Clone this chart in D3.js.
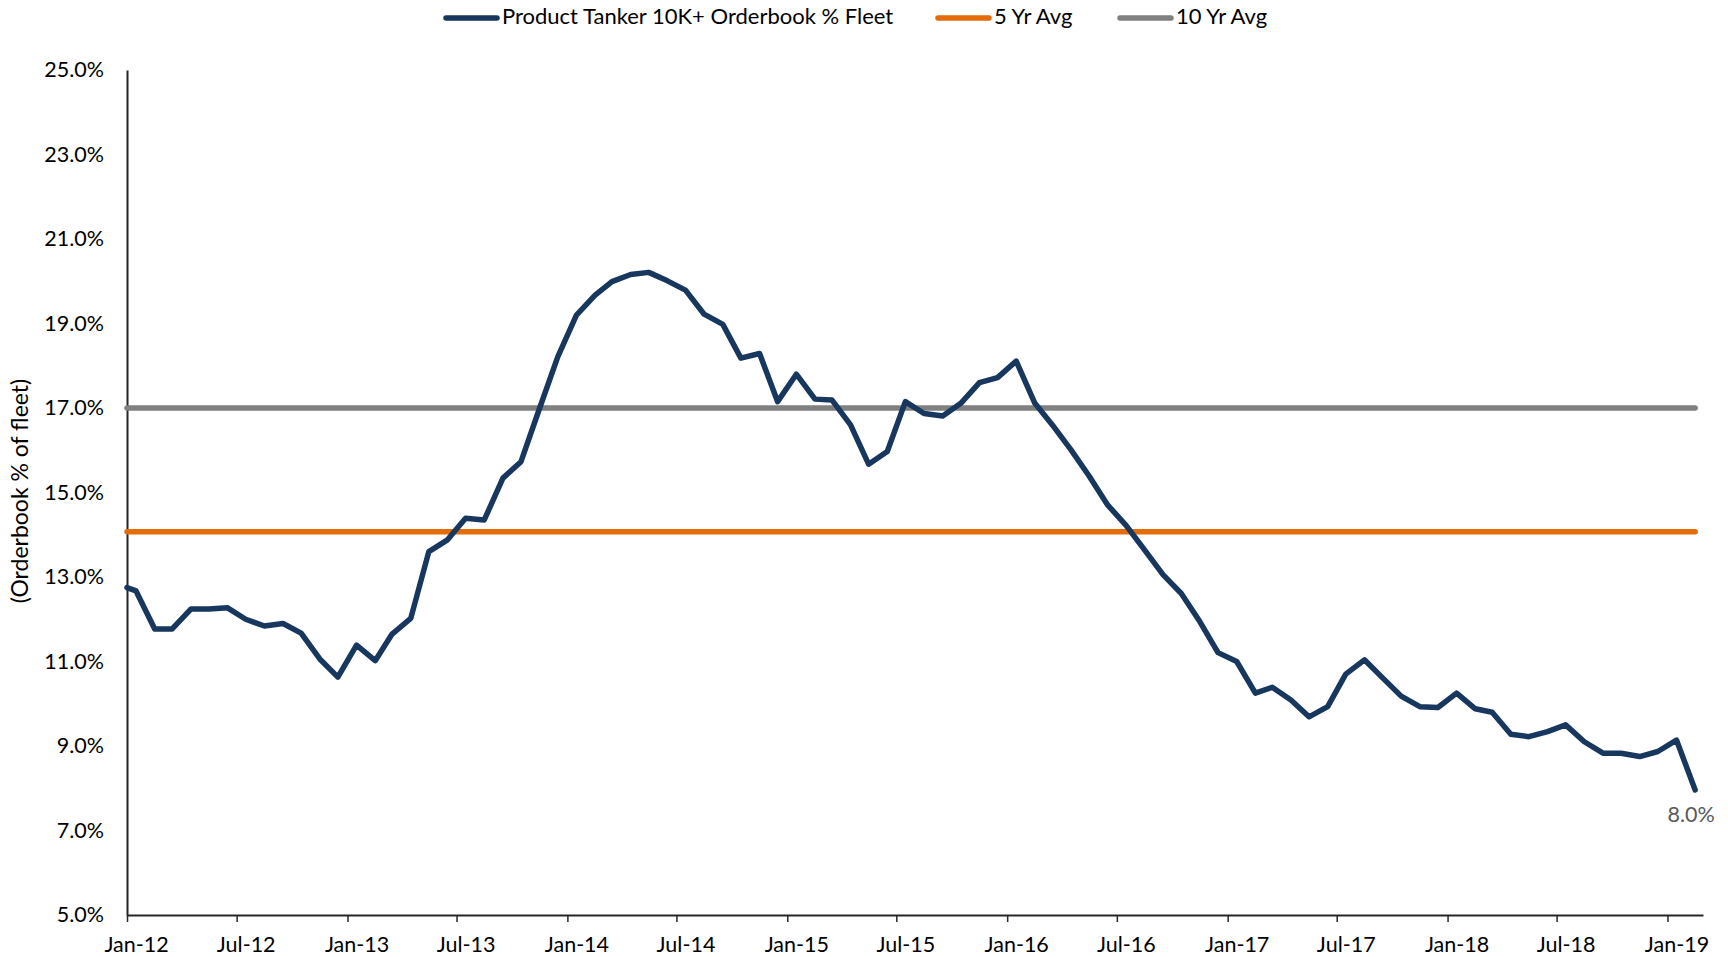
<!DOCTYPE html>
<html lang="en">
<head>
  <meta charset="UTF-8">
  <title>Product Tanker 10K+ Orderbook % Fleet</title>
  <script src="https://d3js.org/d3.v7.min.js"></script>
  <style>
    body {
      margin: 0;
      background: #fff;
      font-family: 'Lato', 'Open Sans', sans-serif;
    }
    svg {
      display: block;
    }
  </style>
</head>
<body>
  <div id="chart"></div>

  <script>
    // Series: first point sits on Jan-12, the rest are mid-month readings (Jan-12 .. Feb-19)
    const firstDate = "2012-01-01";
    const monthFrom = "2012-01-01";
    const monthTo = "2019-03-01";

    const orderbookPct = [
      12.75,
      12.67, 11.77, 11.77, 12.24, 12.24, 12.27, 12.00, 11.84, 11.90, 11.67, 11.06, 10.63,
      11.39, 11.02, 11.65, 12.02, 13.60, 13.88, 14.39, 14.35, 15.34, 15.73, 17.00, 18.21,
      19.20, 19.67, 19.99, 20.16, 20.21, 20.01, 19.79, 19.22, 18.98, 18.18, 18.29, 17.15,
      17.80, 17.21, 17.19, 16.60, 15.67, 15.97, 17.15, 16.87, 16.81, 17.11, 17.60, 17.72,
      18.11, 17.11, 16.60, 16.01, 15.39, 14.70, 14.23, 13.64, 13.05, 12.61, 11.94, 11.21,
      11.00, 10.25, 10.39, 10.09, 9.69, 9.93, 10.70, 11.04, 10.60, 10.18, 9.93, 9.91,
      10.25, 9.88, 9.80, 9.28, 9.22, 9.34, 9.50, 9.10, 8.83, 8.83, 8.75, 8.87,
      9.14, 7.96
    ];

    const fiveYrAvg = 14.07;
    const tenYrAvg = 17.0;

    const yTicks = [5, 7, 9, 11, 13, 15, 17, 19, 21, 23, 25];

    const seriesNames = ["Product Tanker 10K+ Orderbook % Fleet", "5 Yr Avg", "10 Yr Avg"];
    const seriesColors = ["#17375e", "#e46c0a", "#808080"];

    const W = 1728, H = 957;
    const margin = { top: 70, right: 25, bottom: 42, left: 127 };

    const parse = d3.timeParse("%Y-%m-%d");
    const dates = [parse(firstDate)].concat(
      d3.timeMonth.range(parse(monthFrom), parse(monthTo)).map(d => d3.timeDay.offset(d, 15))
    );
    const data = orderbookPct.map((v, i) => ({ date: dates[i], value: v }));

    const svg = d3.select("#chart")
      .append("svg")
      .attr("width", W)
      .attr("height", H);

    const x = d3.scaleTime()
      .domain([parse("2012-01-01"), parse("2019-03-01")])
      .range([margin.left, W - margin.right]);

    const y = d3.scaleLinear()
      .domain([5, 25])
      .range([H - margin.bottom, margin.top]);

    const fontSize = "21.5px";

    // x axis
    const xTickDates = d3.timeMonth.every(6).range(parse("2012-01-01"), parse("2019-02-01"));
    const halfMonth = x(parse("2012-01-16")) - x(parse("2012-01-01"));
    const xAxis = svg.append("g")
      .attr("transform", `translate(0,${y(5)})`)
      .call(d3.axisBottom(x).tickValues(xTickDates).tickFormat(d3.timeFormat("%b-%y")).tickSize(7).tickSizeOuter(0));
    xAxis.select(".domain").attr("stroke", "#262626").attr("stroke-width", 2);
    xAxis.selectAll(".tick line").attr("stroke", "#262626").attr("stroke-width", 1.5);
    xAxis.selectAll(".tick text")
      .attr("x", halfMonth)
      .attr("y", 22)
      .attr("fill", "#000")
      .style("font-size", fontSize)
      .style("font-family", "Lato, sans-serif");

    // y axis
    const yAxis = svg.append("g")
      .attr("transform", `translate(${margin.left},0)`)
      .call(d3.axisLeft(y).tickValues(yTicks).tickFormat(d => d.toFixed(1) + "%").tickSize(0).tickPadding(23));
    yAxis.select(".domain").attr("stroke", "#262626").attr("stroke-width", 2);
    yAxis.selectAll(".tick text")
      .attr("fill", "#000")
      .style("font-size", fontSize)
      .style("font-family", "Lato, sans-serif");

    svg.append("text")
      .attr("transform", "translate(22,491) rotate(-90)")
      .attr("text-anchor", "middle")
      .attr("dominant-baseline", "middle")
      .style("font-size", "23px")
      .style("font-family", "Lato, sans-serif")
      .attr("fill", "#000")
      .text("(Orderbook % of fleet)");

    // average lines
    const lastDate = dates[dates.length - 1];
    [[tenYrAvg, seriesColors[2]], [fiveYrAvg, seriesColors[1]]].forEach(([v, c]) => {
      svg.append("line")
        .attr("x1", x(dates[0]))
        .attr("x2", x(lastDate))
        .attr("y1", y(v))
        .attr("y2", y(v))
        .attr("stroke", c)
        .attr("stroke-width", 5.5)
        .attr("stroke-linecap", "round");
    });

    // main series
    const line = d3.line()
      .x(d => x(d.date))
      .y(d => y(d.value));

    svg.append("path")
      .datum(data)
      .attr("fill", "none")
      .attr("stroke", seriesColors[0])
      .attr("stroke-width", 5.5)
      .attr("stroke-linejoin", "round")
      .attr("stroke-linecap", "round")
      .attr("d", line);

    // end label
    const last = data[data.length - 1];
    svg.append("text")
      .attr("x", x(last.date) - 4)
      .attr("y", y(last.value) + 32)
      .attr("text-anchor", "middle")
      .attr("fill", "#595959")
      .style("font-size", fontSize)
      .style("font-family", "Lato, sans-serif")
      .text(last.value.toFixed(1) + "%");

    // legend
    const legendX = [446, 938, 1120];
    const legend = svg.append("g").attr("transform", "translate(0,18)");
    seriesNames.forEach((name, i) => {
      const g = legend.append("g").attr("transform", `translate(${legendX[i]},0)`);
      g.append("line")
        .attr("x1", 0).attr("x2", 51)
        .attr("y1", 0).attr("y2", 0)
        .attr("stroke", seriesColors[i])
        .attr("stroke-width", 5.5)
        .attr("stroke-linecap", "round");
      g.append("text")
        .attr("x", 56)
        .attr("y", 0)
        .attr("dominant-baseline", "middle")
        .attr("fill", "#000")
        .style("font-size", "22px")
        .style("font-family", "Lato, sans-serif")
        .text(name);
    });
  </script>
</body>
</html>
